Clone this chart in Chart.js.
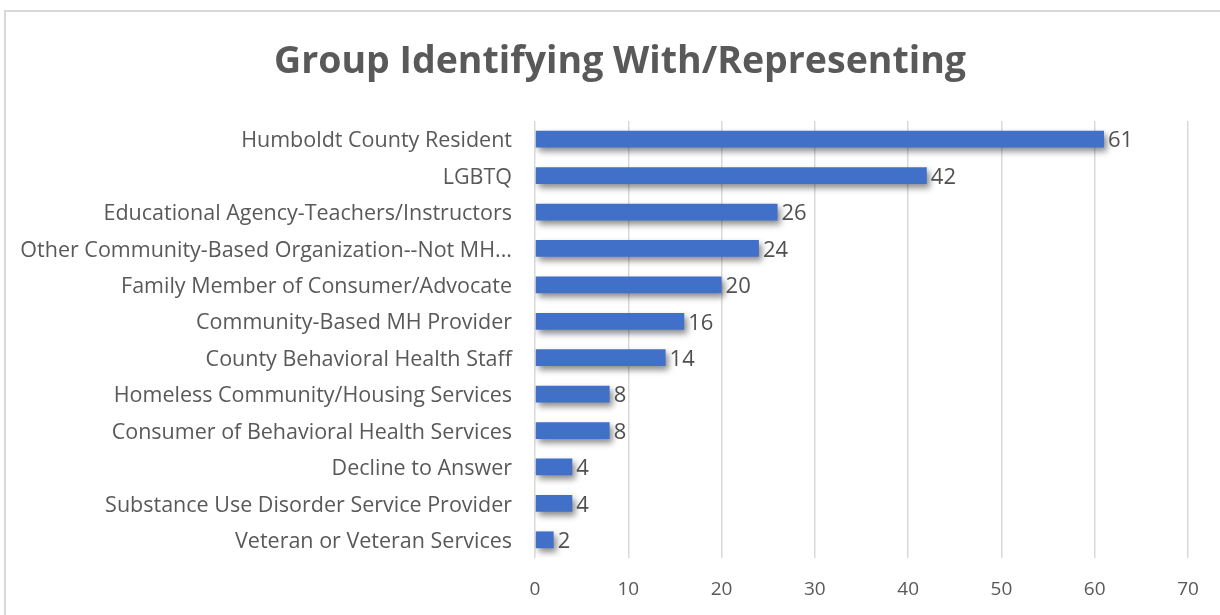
<!DOCTYPE html>
<html>
<head>
<meta charset="utf-8">
<script src="https://cdn.jsdelivr.net/npm/chart.js@4"></script>
<style>
html,body{margin:0;padding:0;background:#fff;}
#wrap{position:relative;width:1220px;height:615px;}
</style>
</head>
<body>
<div id="wrap"><canvas id="c" width="1220" height="615"></canvas></div>
<script>
const categories = [
  "Humboldt County Resident",
  "LGBTQ",
  "Educational Agency-Teachers/Instructors",
  "Other Community-Based Organization--Not MH...",
  "Family Member of Consumer/Advocate",
  "Community-Based MH Provider",
  "County Behavioral Health Staff",
  "Homeless Community/Housing Services",
  "Consumer of Behavioral Health Services",
  "Decline to Answer",
  "Substance Use Disorder Service Provider",
  "Veteran or Veteran Services"
];
const counts = [61, 42, 26, 24, 20, 16, 14, 8, 8, 4, 4, 2];
const xTicks = [0, 10, 20, 30, 40, 50, 60, 70];
const titleText = "Group Identifying With/Representing";

const FONT = "'Open Sans', sans-serif";

const framePlugin = {
  id: 'frame',
  beforeDraw(chart) {
    const ctx = chart.ctx;
    ctx.save();
    ctx.fillStyle = '#fff';
    ctx.fillRect(0, 0, chart.width, chart.height);
    ctx.strokeStyle = '#d9d9d9';
    ctx.lineWidth = 2;
    ctx.beginPath();
    ctx.moveTo(5, chart.height);
    ctx.lineTo(5, 11);
    ctx.lineTo(chart.width, 11);
    ctx.stroke();
    ctx.font = "bold 37.5px " + FONT;
    ctx.fillStyle = '#595959';
    ctx.textAlign = 'center';
    ctx.textBaseline = 'middle';
    ctx.fillText(titleText, 620, 62.5);
    ctx.restore();
  }
};

const barFx = {
  id: 'barFx',
  beforeDatasetsDraw(chart) {
    const ctx = chart.ctx;
    ctx.save();
    ctx.shadowColor = 'rgba(0,0,0,0.45)';
    ctx.shadowBlur = 6;
    ctx.shadowOffsetX = 3;
    ctx.shadowOffsetY = 4;
  },
  afterDatasetsDraw(chart) {
    const ctx = chart.ctx;
    ctx.restore();
    ctx.save();
    ctx.font = "22px " + FONT;
    ctx.fillStyle = '#505050';
    ctx.textBaseline = 'middle';
    ctx.textAlign = 'left';
    const meta = chart.getDatasetMeta(0);
    meta.data.forEach((bar, i) => {
      ctx.fillText(String(chart.data.datasets[0].data[i]), bar.x + 4, bar.y + 2);
    });
    ctx.restore();
  }
};

new Chart(document.getElementById('c'), {
  type: 'bar',
  data: {
    labels: categories,
    datasets: [{
      data: counts,
      backgroundColor: (c) => {
        const chart = c.chart;
        const el = c.element;
        if (!el || !chart.chartArea || el.y === undefined) return '#4070c8';
        const h = el.height || 16;
        const g = chart.ctx.createLinearGradient(0, el.y - h / 2, 0, el.y + h / 2);
        g.addColorStop(0, '#5a84d4');
        g.addColorStop(0.5, '#3f6cc6');
        g.addColorStop(1, '#3461bb');
        return g;
      },
      borderWidth: 0,
      categoryPercentage: 1,
      barPercentage: 0.46
    }]
  },
  options: {
    indexAxis: 'y',
    responsive: false,
    animation: false,
    devicePixelRatio: 1,
    layout: { padding: { left: 0, right: 32, top: 121, bottom: 0 } },
    plugins: {
      legend: { display: false },
      tooltip: { enabled: false },
      title: { display: false }
    },
    scales: {
      x: {
        min: 0, max: 70,
        afterBuildTicks(scale) { scale.ticks = xTicks.map(v => ({ value: v })); },
        afterFit(scale) { scale.height = 57; },
        grid: { color: '#d9d9d9', lineWidth: 1.5, drawTicks: false },
        border: { display: false },
        ticks: { color: '#595959', font: { family: FONT, size: 19 }, padding: 20 }
      },
      y: {
        afterFit(scale) { scale.width = 535; },
        grid: { display: false, drawTicks: false },
        border: { display: false },
        ticks: { color: '#595959', font: { family: FONT, size: 21.5 }, padding: 23, labelOffset: 2, autoSkip: false }
      }
    }
  },
  plugins: [framePlugin, barFx]
});
</script>
</body>
</html>
